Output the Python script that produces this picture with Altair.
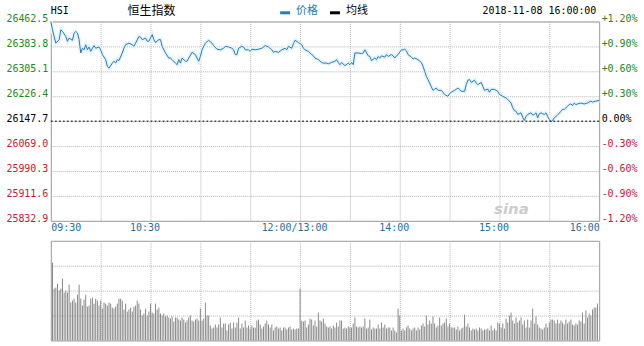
import altair as alt
import pandas as pd

MONO = "DejaVu Sans Mono"
CJK = "Noto Sans CJK SC"
GREEN = "#238a23"
RED = "#c8173a"
BLUE = "#2a7bb3"
GRID = "#b4b4b4"

prev_close = 26147.7
y_levels = [26462.5, 26383.8, 26305.1, 26226.4, 26147.7, 26069.0, 25990.3, 25911.6, 25832.9]
pct_levels = [1.2, 0.9, 0.6, 0.3, 0.0, -0.3, -0.6, -0.9, -1.2]
x_ticks = [0, 30, 60, 90, 120, 150, 180, 210, 240, 270, 300, 330]
x_tick_labels = {0: "09:30", 60: "10:30", 150: "12:00/13:00", 210: "14:00", 270: "15:00", 330: "16:00"}

# minutes since 09:30 (lunch break removed)
minute = [0, 1, 3, 5, 6, 7, 9, 10, 11, 13, 14, 15, 16, 17, 18, 19, 20, 21, 22, 23, 24, 25, 26, 27, 29, 30,
          31, 33, 34, 35, 37, 38, 39, 40, 41, 43, 44, 45, 47, 49, 50, 51, 53, 54, 55, 57, 58, 59, 61, 62,
          63, 65, 66, 67, 69, 71, 72, 73, 75, 76, 77, 78, 79, 81, 82, 83, 85, 87, 88, 89, 90, 91, 93, 95,
          97, 98, 100, 102, 104, 105, 107, 109, 110, 111, 112, 113, 115, 116, 117, 119, 120, 121, 123, 125,
          127, 129, 131, 133, 134, 135, 137, 139, 141, 142, 143, 145, 146, 147, 149, 151, 152, 153, 155,
          157, 158, 159, 161, 163, 164, 166, 167, 169, 171, 172, 173, 174, 175, 177, 179, 180, 181, 182,
          183, 185, 187, 188, 189, 191, 192, 193, 195, 196, 197, 198, 199, 201, 202, 203, 205, 206, 207,
          208, 209, 211, 212, 213, 214, 215, 217, 218, 219, 221, 223, 224, 225, 226, 227, 228, 229, 230,
          231, 232, 233, 235, 236, 237, 239, 240, 241, 243, 245, 246, 247, 249, 250, 251, 252, 253, 255,
          256, 257, 259, 260, 261, 263, 264, 265, 267, 269, 270, 272, 274, 275, 277, 278, 279, 280, 281,
          283, 284, 285, 286, 287, 289, 290, 291, 292, 293, 294, 295, 296, 297, 298, 299, 300, 301, 302,
          303, 305, 307, 308, 309, 311, 312, 313, 314, 315, 316, 317, 319, 321, 323, 325, 326, 328, 330]
price = [26462.5, 26436, 26394, 26405, 26436, 26431, 26415, 26400, 26410, 26403, 26426, 26431, 26426, 26405,
         26363, 26378, 26373, 26389, 26373, 26382, 26368, 26378, 26386, 26378, 26382, 26373,
         26358, 26342, 26321, 26315, 26331, 26337, 26331, 26342, 26339, 26363, 26378, 26389, 26394, 26389,
         26384, 26394, 26415, 26413, 26405, 26410, 26400, 26400, 26421, 26405,
         26396, 26405, 26405, 26384, 26363, 26347, 26347, 26342, 26331, 26326, 26342, 26331, 26347, 26337,
         26337, 26347, 26365, 26358, 26347, 26337, 26352, 26373, 26394, 26403,
         26394, 26386, 26375, 26373, 26378, 26384, 26382, 26378, 26373, 26358, 26358, 26378, 26384, 26382,
         26373, 26373, 26368, 26375, 26373, 26375,
         26378, 26386, 26382, 26373, 26365, 26368, 26365, 26373, 26378, 26373, 26384, 26378, 26392, 26403,
         26396, 26389, 26378, 26373, 26368,
         26358, 26354, 26347, 26342, 26333, 26331, 26331, 26329, 26333, 26337, 26342, 26333, 26326, 26333,
         26323, 26331, 26326, 26333, 26326,
         26363, 26363, 26361, 26363, 26373, 26354, 26352, 26339, 26347, 26342, 26352, 26347, 26354, 26350,
         26358, 26352, 26358, 26354, 26347,
         26354, 26358, 26373, 26373, 26375, 26370, 26358, 26350, 26344, 26347, 26342, 26333, 26321, 26305,
         26289, 26279, 26268, 26256, 26245,
         26249, 26252, 26245, 26245, 26239, 26232, 26226, 26235, 26239, 26245, 26252, 26248, 26242, 26242,
         26263, 26277, 26279, 26270, 26277,
         26268, 26263, 26270, 26258, 26245, 26249, 26239, 26248, 26248, 26242, 26232, 26226, 26221, 26216,
         26205, 26190, 26181, 26179, 26169,
         26174, 26160, 26150, 26163, 26169, 26174, 26167, 26169, 26174, 26158, 26171, 26174, 26171, 26169,
         26174, 26163, 26153, 26146, 26150,
         26158, 26167, 26179, 26185, 26185, 26195, 26200, 26202, 26197, 26205, 26200, 26202, 26205, 26202,
         26205, 26211, 26208, 26211, 26213]
assert len(minute) == len(price)

# per-minute volume, minutes 1..329 (relative units)
volume = [78, 52, 53, 57, 50, 52, 62, 48, 50, 48,
          56, 38, 40, 42, 38, 46, 56, 42, 35, 41,
          46, 34, 35, 42, 43, 37, 42, 40, 35, 40,
          32, 38, 37, 35, 38, 37, 33, 32, 34, 37,
          42, 42, 40, 31, 37, 29, 31, 33, 29, 34,
          35, 40, 37, 31, 25, 27, 32, 25, 29, 37,
          28, 27, 37, 31, 33, 27, 25, 27, 24, 25,
          23, 22, 24, 19, 23, 23, 21, 20, 23, 21,
          18, 20, 23, 25, 20, 19, 21, 22, 20, 32,
          20, 22, 38, 25, 25, 15, 12, 13, 16, 13,
          16, 23, 13, 17, 17, 10, 16, 18, 12, 18,
          13, 18, 23, 12, 17, 13, 20, 13, 15, 12,
          15, 13, 13, 20, 21, 16, 12, 14, 17, 20,
          16, 13, 16, 10, 13, 14, 12, 13, 10, 13,
          13, 11, 13, 14, 11, 12, 11, 12, 12, 52,
          20, 19, 20, 13, 16, 22, 21, 15, 20, 14,
          28, 20, 19, 22, 17, 14, 13,
          14, 12, 15, 13, 18, 14, 20, 20, 12, 13,
          12, 14, 13, 13, 17, 23, 14, 13, 14, 13,
          14, 22, 12, 13, 21, 11, 13, 12, 12, 16,
          12, 18, 13, 16, 12, 13, 13, 10, 13, 10,
          8, 32, 25, 10, 12, 10, 13, 15, 12, 10,
          12, 13, 10, 13, 11, 15, 17, 14, 25, 16,
          20, 17, 24, 17, 13, 15, 23, 15, 17, 18,
          22, 14, 17, 13, 13, 13, 11, 14, 10, 12,
          13, 26, 14, 17, 13, 10, 12, 11, 12, 10,
          13, 12, 10, 11, 11, 12, 10, 15, 10, 12,
          10, 18, 17, 13, 17, 12, 22, 18, 25, 28,
          20, 17, 23, 18, 20, 23, 16, 20, 13, 21,
          13, 20, 32, 17, 24, 16, 13, 12, 11, 13,
          17, 13, 18, 21, 21, 20, 17, 21, 17, 20,
          18, 16, 21, 17, 19, 21, 16, 15, 17, 16,
          20, 19, 28, 17, 30, 23, 27, 25, 31, 33,
          33, 37]
vol_minute = list(range(1, len(volume) + 1))

price_df = pd.DataFrame({"minute": minute, "price": price})
vol_df = pd.DataFrame({"minute": vol_minute, "volume": volume})
pct_df = pd.DataFrame({"pct": pct_levels})

x_scale = alt.Scale(domain=[0, 330], nice=False, zero=False)
y_scale = alt.Scale(domain=[y_levels[-1], y_levels[0]], nice=False, zero=False)

label_expr = "".join(f"datum.value == {k} ? '{v}' : " for k, v in x_tick_labels.items()) + "''"

x_axis = alt.Axis(values=x_ticks, labelExpr=label_expr, grid=True, gridDash=[1, 1], gridColor=GRID,
                  ticks=False, domain=False, labelFont=MONO, labelFontSize=10, labelColor="#1f6fa5",
                  labelFlush=True, labelPadding=2, labelOverlap=False, title=None,
                  labelOffset={"condition": {"test": "datum.value > 0 && datum.value < 330", "value": -6},
                               "value": 0})
y_axis = alt.Axis(values=y_levels, format=".1f", grid=True, gridDash=[1, 1], gridColor=GRID,
                  ticks=False, domain=False, labelFont=MONO, labelFontSize=10, labelPadding=3,
                  labelOffset=-2.5, labelOverlap=False, title=None,
                  labelColor={"condition": [{"test": f"datum.value > {prev_close + 0.5}", "value": GREEN},
                                            {"test": f"datum.value < {prev_close - 0.5}", "value": RED}],
                              "value": "#000000"})

base = alt.Chart(price_df).encode(
    x=alt.X("minute:Q", scale=x_scale, axis=x_axis),
    y=alt.Y("price:Q", scale=y_scale, axis=y_axis),
)
glow = base.mark_line(color="#e4f3fc", strokeWidth=4)
line = base.mark_line(color=BLUE, strokeWidth=1)
zero_rule = alt.Chart(pd.DataFrame({"price": [prev_close]})).mark_rule(
    color="#000000", strokeDash=[2, 2], strokeWidth=1).encode(y=alt.Y("price:Q", scale=y_scale, axis=y_axis))
left = alt.layer(glow, line, zero_rule)

right = alt.Chart(pct_df).mark_point(opacity=0).encode(
    y=alt.Y("pct:Q", scale=alt.Scale(domain=[-1.2, 1.2], nice=False, zero=False),
            axis=alt.Axis(orient="right", values=pct_levels, grid=False, ticks=False, domain=False,
                          labelFont=MONO, labelFontSize=10, labelPadding=2, labelOffset=-2.5,
                          labelOverlap=False, title=None,
                          labelExpr="datum.value == 0 ? '0.00%' : (datum.value > 0 ? '+' : '-') + format(abs(datum.value), '.2f') + '%'",
                          labelColor={"condition": [{"test": "datum.value > 0.001", "value": GREEN},
                                                    {"test": "datum.value < -0.001", "value": RED}],
                                      "value": "#000000"}))
)


def label(text, x, y, font=MONO, size=10, color="#000000", align="left", **kw):
    return alt.Chart(pd.DataFrame({"t": [text]})).mark_text(
        font=font, fontSize=size, color=color, align=align, baseline="middle", **kw
    ).encode(x=alt.value(x), y=alt.value(y), text="t:N")


texts = [
    label("HSI", 0, -10.5),
    label("恒生指数", 77, -10, font=CJK, size=12),
    label("价格", 246, -10, font=CJK, size=11, color=BLUE),
    label("均线", 296, -10, font=CJK, size=11),
    label("2018-11-08 16:00:00", 433, -10.5),
    label("sina", 462, 188, font="DejaVu Sans", size=15, color="#cccccc", align="center",
          fontStyle="italic", fontWeight="bold"),
]
legend_bars = [
    alt.Chart(pd.DataFrame({"k": ["价格"]})).mark_rule(color=BLUE, strokeWidth=3).encode(
        x=alt.value(230), x2=alt.value(240), y=alt.value(-8.7)),
    alt.Chart(pd.DataFrame({"k": ["均线"]})).mark_rule(color="#000000", strokeWidth=3).encode(
        x=alt.value(280), x2=alt.value(290), y=alt.value(-8.7)),
]

top = alt.layer(left, right, *texts, *legend_bars).resolve_scale(y="independent").properties(
    width=550, height=200)

vol = alt.Chart(vol_df).mark_rule(color="#8a8a8a", strokeWidth=1).encode(
    x=alt.X("minute:Q", scale=x_scale,
            axis=alt.Axis(values=x_ticks, grid=True, gridDash=[1, 1], gridColor=GRID, labels=False,
                          ticks=False, domain=False, title=None)),
    y=alt.Y("volume:Q", scale=alt.Scale(domain=[0, 100], nice=False, zero=True),
            axis=alt.Axis(values=[25, 50, 75], grid=True, gridDash=[1, 1], gridColor=GRID, labels=False,
                          ticks=False, domain=False, title=None)),
    y2=alt.datum(0),
).properties(width=550, height=100)

chart = alt.vconcat(top, vol, spacing=20, bounds="flush").properties(
    padding={"left": 5, "top": 4, "right": 6, "bottom": 6},
    background="#ffffff",
).configure_view(stroke="#9a9a9a", strokeWidth=1)

chart.save("out.html", embed_options={"renderer": "svg", "actions": False})
